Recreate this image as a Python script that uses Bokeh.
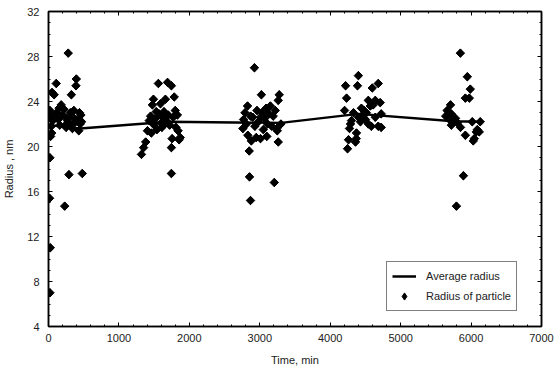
import math

from bokeh.plotting import figure
from bokeh.models import (ColumnDataSource, LinearAxis, SingleIntervalTicker,
                          Range1d, Legend, LegendItem, CustomLabelingPolicy)
from bokeh.embed import file_html
from bokeh.resources import INLINE

# Individual particle radii (nm) measured at each sampling time (min)
particle_time = [
    # first batch
    20, 25, 15, 20, 30, 45, 40, 60, 35, 20, 50, 80, 110, 120, 140, 160, 180,
    200, 220, 230, 250, 260, 280, 290, 300, 310, 325, 340, 350, 370, 395, 390,
    410, 430, 440, 460, 470, 480, 150, 100, 240, 270, 360, 450,
    # second batch
    1320, 1350, 1380, 1405, 1430, 1450, 1475, 1490, 1500, 1520, 1540, 1560,
    1570, 1590, 1600, 1620, 1640, 1660, 1670, 1690, 1700, 1720, 1745, 1745,
    1745, 1755, 1770, 1785, 1800, 1810, 1830, 1840, 1855, 1870, 1460, 1530,
    1610, 1650,
    # third batch
    2760, 2770, 2790, 2810, 2826, 2830, 2850, 2854, 2868, 2880, 2900, 2924,
    2930, 2950, 2960, 2980, 3010, 3023, 3030, 3050, 3070, 3090, 3110, 3130,
    3150, 3170, 3190, 3206, 3220, 3240, 3248, 3262, 3262, 3276, 3300, 3010,
    2870, 3100,
    # fourth batch
    4204, 4218, 4232, 4246, 4260, 4274, 4288, 4302, 4330, 4359, 4370, 4373,
    4387, 4400, 4429, 4443, 4460, 4480, 4513, 4541, 4541, 4569, 4583, 4597,
    4610, 4640, 4640, 4682, 4682, 4710, 4724, 4724, 4400, 4500,
    # fifth batch
    5640, 5660, 5708, 5720, 5708, 5720, 5750, 5780, 5792, 5806, 5848, 5850,
    5891, 5919, 5919, 5947, 5975, 5989, 6017, 6031, 6045, 6074, 6088, 6116,
    6130,
]
particle_radius = [
    7.0, 11.0, 15.4, 19.0, 20.9, 21.2, 21.8, 22.3, 22.6, 23.2, 24.8, 24.6,
    25.6, 23.0, 22.4, 21.9, 23.7, 22.8, 23.3, 14.7, 21.7, 22.5, 28.3, 17.5,
    22.0, 23.0, 24.6, 21.6, 22.6, 22.1, 26.0, 25.4, 22.4, 21.4, 23.0, 22.8,
    22.2, 17.6, 23.4, 22.9, 21.9, 22.3, 23.2, 22.0,
    19.3, 19.9, 20.4, 21.4, 22.3, 22.7, 23.7, 24.2, 21.9, 22.5, 21.5, 25.6,
    22.9, 23.8, 22.1, 22.6, 23.1, 24.2, 22.3, 25.7, 22.8, 21.9, 25.4, 19.9,
    17.6, 20.7, 22.6, 24.4, 23.2, 21.7, 22.8, 21.4, 20.6, 20.8, 21.2, 23.1,
    21.7, 22.0,
    21.6, 22.4, 23.0, 22.0, 23.6, 21.0, 19.6, 17.3, 15.2, 20.5, 22.6, 27.0,
    21.8, 20.8, 23.2, 22.2, 20.7, 24.6, 23.0, 21.5, 22.5, 23.4, 22.0, 22.9,
    23.6, 21.8, 22.7, 16.8, 23.2, 21.6, 21.4, 20.4, 24.1, 24.6, 22.0, 22.6,
    22.7, 20.9,
    23.2, 25.4, 24.3, 19.8, 20.6, 21.6, 22.0, 22.3, 23.0, 20.4, 20.7, 21.2,
    25.4, 26.3, 22.2, 23.4, 22.8, 23.2, 23.0, 24.1, 22.0, 23.6, 21.8, 25.2,
    23.7, 24.1, 22.6, 25.6, 21.8, 23.9, 22.9, 21.7, 22.6, 22.4,
    22.7, 23.2, 23.7, 22.9, 22.3, 21.9, 22.2, 22.5, 14.7, 22.1, 28.3, 21.7,
    17.4, 24.3, 21.0, 26.2, 24.3, 25.1, 22.2, 20.5, 20.7, 21.3, 21.5, 21.3,
    22.2,
]

# Average radius over time
avg_time = [0, 450, 1700, 3300, 4400, 5750, 6150]
avg_radius = [21.9, 21.6, 22.2, 22.1, 22.9, 22.25, 22.2]

FONT = "Liberation Sans"

p = figure(width=556, height=374, output_backend="svg", toolbar_location=None,
           x_range=Range1d(0, 7000), y_range=Range1d(4, 32),
           min_border_left=47, min_border_right=8, min_border_top=11,
           min_border_bottom=48, x_axis_type=None, y_axis_type=None)
p.background_fill_color = "white"
p.border_fill_color = "white"
p.outline_line_color = "black"
p.outline_line_width = 1.5
p.xgrid.visible = False
p.ygrid.visible = False

# the mirror axes on top and right carry tick marks only
no_labels = CustomLabelingPolicy(code="""
    const all = [...indices]
    for (const i of all)
        indices.unset(i)
    return indices
""")


def style_axis(ax, show_labels):
    ax.axis_line_color = "black"
    ax.axis_line_width = 1.5
    ax.major_tick_in = 4
    ax.major_tick_out = 0
    ax.minor_tick_in = 2
    ax.minor_tick_out = 0
    ax.major_tick_line_color = "black"
    ax.minor_tick_line_color = "black"
    ax.major_label_text_font = FONT
    ax.major_label_text_font_size = "11px"
    ax.major_label_text_color = "#222222"
    ax.axis_label_text_font = FONT
    ax.axis_label_text_font_size = "11px"
    ax.axis_label_text_font_style = "normal"
    ax.axis_label_text_color = "#222222"
    if not show_labels:
        ax.major_label_policy = no_labels
        ax.major_label_standoff = 0


xt = SingleIntervalTicker(interval=1000, num_minor_ticks=5)
yt = SingleIntervalTicker(interval=4, num_minor_ticks=4)

xb = LinearAxis(ticker=xt, axis_label="Time, min")
style_axis(xb, True)
xb.major_label_standoff = 7
xb.axis_label_standoff = 9
p.add_layout(xb, "below")

yl = LinearAxis(ticker=yt, axis_label="Radius , nm")
style_axis(yl, True)
yl.major_label_standoff = 9
yl.axis_label_standoff = 9
p.add_layout(yl, "left")

xa = LinearAxis(ticker=xt)
style_axis(xa, False)
p.add_layout(xa, "above")

yr = LinearAxis(ticker=yt)
style_axis(yr, False)
p.add_layout(yr, "right")

pts = ColumnDataSource(dict(t=particle_time, r=particle_radius))
avg = ColumnDataSource(dict(t=avg_time, r=avg_radius))

avg_line = p.line("t", "r", source=avg, line_color="black", line_width=2.5)
# narrow diamonds that sit fully under the rotated squares; they supply the
# legend swatch, since legend glyphs do not take the marker angle
dots_key = p.scatter("t", "r", source=pts, marker="diamond", size=8,
                     fill_color="black", line_color="black")
dots = p.scatter("t", "r", source=pts, marker="square", size=6,
                 angle=math.pi / 4, fill_color="black", line_color="black",
                 line_width=1)

legend = Legend(items=[LegendItem(label="Average radius", renderers=[avg_line]),
                       LegendItem(label="Radius of particle", renderers=[dots_key])],
                location=(338, 15))
legend.border_line_color = "black"
legend.border_line_width = 1
legend.background_fill_alpha = 1
legend.label_text_font = FONT
legend.label_text_font_size = "11px"
legend.label_text_color = "#222222"
legend.glyph_width = 24
legend.glyph_height = 18
legend.label_height = 18
legend.spacing = 2
legend.padding = 5
legend.margin = 0
legend.label_standoff = 10
p.add_layout(legend, "center")

open("out.html", "w").write(file_html(p, INLINE))
